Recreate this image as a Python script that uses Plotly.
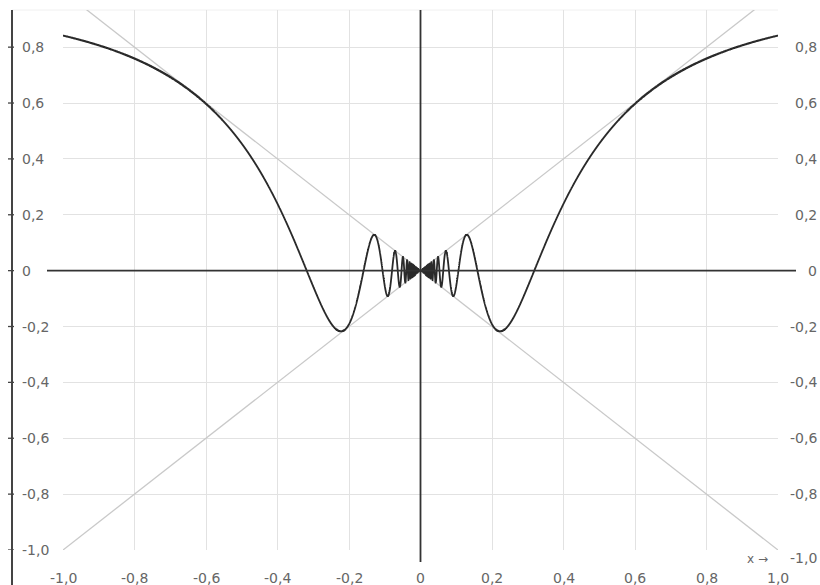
import numpy as np
import plotly.graph_objects as go

# ---- data ----
x_ticks = [-1.0, -0.8, -0.6, -0.4, -0.2, 0.0, 0.2, 0.4, 0.6, 0.8, 1.0]
x_tick_labels = ["-1,0", "-0,8", "-0,6", "-0,4", "-0,2", "0", "0,2", "0,4", "0,6", "0,8", "1,0"]
y_ticks = [0.8, 0.6, 0.4, 0.2, 0.0, -0.2, -0.4, -0.6, -0.8, -1.0]
y_tick_labels = ["0,8", "0,6", "0,4", "0,2", "0", "-0,2", "-0,4", "-0,6", "-0,8", "-1,0"]
diag_x = [-1.0, 1.0]
diag_up = [-1.0, 1.0]      # y = x
diag_down = [1.0, -1.0]    # y = -x

# the plotted function: f(x) = x * sin(1/x)
curve_x = np.linspace(-1.0, 1.0, 80001)
curve_x = curve_x[curve_x != 0]
curve_y = curve_x * np.sin(1.0 / curve_x)

# ---- layout geometry (pixels) ----
W, H = 820, 585
L, R, T, B = 63, 42, 10, 35
pw, ph = W - L - R, H - T - B
def px2paper_x(px):
    return (px - L) / pw
def px2paper_y(py):
    return (H - B - py) / ph

TXT = dict(family="DejaVu Sans", size=14, color="#666666")

fig = go.Figure()
fig.add_trace(go.Scatter(x=diag_x, y=diag_up, mode="lines",
                         line=dict(color="#c9c9c9", width=1.3), hoverinfo="skip"))
fig.add_trace(go.Scatter(x=diag_x, y=diag_down, mode="lines",
                         line=dict(color="#c9c9c9", width=1.3), hoverinfo="skip"))
fig.add_trace(go.Scatter(x=curve_x, y=curve_y, mode="lines",
                         line=dict(color="#2a2a2a", width=1.8, simplify=False), hoverinfo="skip"))

shapes = []
# faint top border line
shapes.append(dict(type="line", xref="paper", yref="paper", x0=px2paper_x(12), x1=1,
                   y0=1, y1=1, line=dict(color="#f0f0f0", width=1), layer="below"))
# axes through the origin
shapes.append(dict(type="line", xref="paper", yref="y", x0=px2paper_x(47), x1=px2paper_x(796),
                   y0=0, y1=0, line=dict(color="#333333", width=1.6)))
shapes.append(dict(type="line", xref="x", yref="paper", x0=0, x1=0,
                   y0=px2paper_y(562), y1=1, line=dict(color="#333333", width=1.8)))
# left axis line with ticks
shapes.append(dict(type="line", xref="paper", yref="paper", x0=px2paper_x(12), x1=px2paper_x(12),
                   y0=px2paper_y(585), y1=1, line=dict(color="#444444", width=2)))
for yv in y_ticks:
    shapes.append(dict(type="line", xref="paper", yref="y", x0=px2paper_x(8), x1=px2paper_x(14),
                       y0=yv, y1=yv, line=dict(color="#444444", width=1.3)))

annotations = []
for yv, lab in zip(y_ticks, y_tick_labels):
    annotations.append(dict(x=px2paper_x(20), xref="paper", y=yv, yref="y", text=lab,
                            showarrow=False, xanchor="left", yanchor="middle", font=TXT))
    yshift = -8 if yv == -1.0 else 0
    annotations.append(dict(x=px2paper_x(819), xref="paper", y=yv, yref="y", text=lab,
                            showarrow=False, xanchor="right", yanchor="middle", font=TXT,
                            yshift=yshift))
for xv, lab in zip(x_ticks, x_tick_labels):
    annotations.append(dict(x=xv, xref="x", y=px2paper_y(578), yref="paper", text=lab,
                            showarrow=False, xanchor="center", yanchor="middle", font=TXT))
annotations.append(dict(x=px2paper_x(757), xref="paper", y=px2paper_y(559), yref="paper",
                        text="x →", showarrow=False, xanchor="center", yanchor="middle",
                        font=dict(family="DejaVu Sans", size=12, color="#666666")))

fig.update_layout(
    width=W, height=H,
    margin=dict(l=L, r=R, t=T, b=B),
    plot_bgcolor="white", paper_bgcolor="white",
    showlegend=False,
    separators=", ",
    shapes=shapes,
    annotations=annotations,
    xaxis=dict(range=[-1.0, 1.0], tickvals=x_ticks, showticklabels=False, ticks="",
               showgrid=True, gridcolor="#e2e2e2", gridwidth=1, zeroline=False,
               showline=False, fixedrange=True),
    yaxis=dict(range=[-1.0, 0.933], tickvals=y_ticks, showticklabels=False, ticks="",
               showgrid=True, gridcolor="#e2e2e2", gridwidth=1, zeroline=False,
               showline=False, fixedrange=True),
)

fig.write_html("out.html", config={"displayModeBar": False},
               post_script="document.body.style.margin='0';document.body.style.overflow='hidden';")
